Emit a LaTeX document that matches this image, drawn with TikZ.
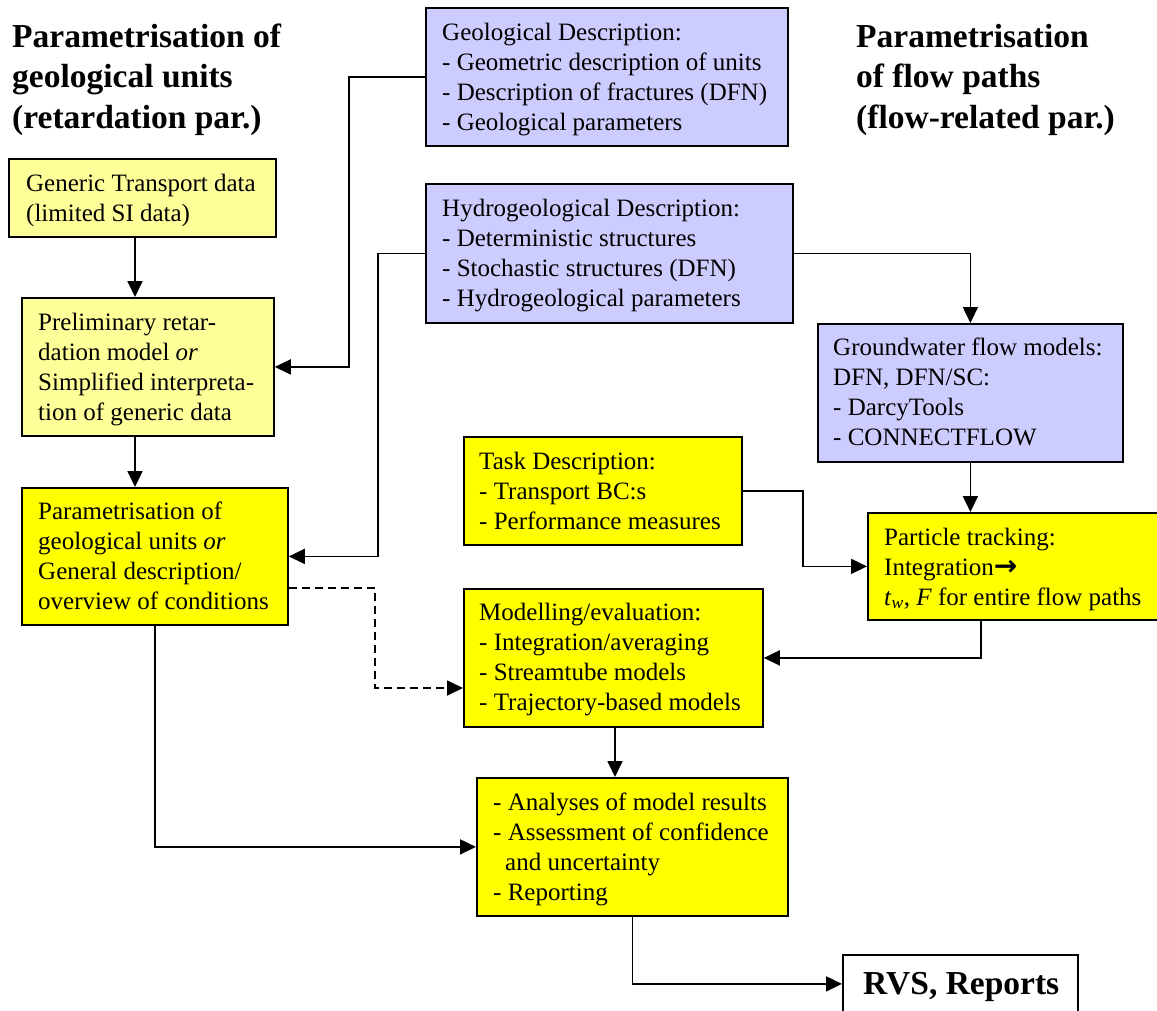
\documentclass[tikz,border=0pt]{standalone}
\usepackage{fontspec}
\setmainfont{Liberation Serif}
\newfontfamily\arrowfont{DejaVu Sans}
\usetikzlibrary{arrows.meta}
\definecolor{lavender}{RGB}{204,204,255}
\definecolor{paleyellow}{RGB}{255,255,153}
\definecolor{brightyellow}{RGB}{255,255,0}
% left-aligned stack of lines whose baseline is that of the first line
\newcommand{\boxlines}[1]{\begin{tabular}[t]{@{}l@{}}#1\end{tabular}}

\begin{document}
\begin{tikzpicture}[x=1pt,y=-1pt,
  panel/.style={draw=black, line width=1.8pt, anchor=north west, inner sep=0pt},
  bluebox/.style={panel, fill=lavender},
  palebox/.style={panel, fill=paleyellow},
  yellowbox/.style={panel, fill=brightyellow},
  whitebox/.style={panel, fill=white},
  body/.style={anchor=base west, inner sep=0pt, font=\fontsize{25}{30}\selectfont},
  heading/.style={anchor=base west, inner sep=0pt, font=\bfseries\fontsize{33.5}{40.5}\selectfont},
  link/.style={line width=1.8pt, -{Triangle[length=16pt,width=15pt]}},
  dashedlink/.style={link, dash pattern=on 8pt off 5pt},
]
\path[fill=white] (0,0) rectangle (1157,1010);
\useasboundingbox (0,0) rectangle (1157,1010);

% ---- headings ----
\node[heading] (lefthead) at (12,47) {\boxlines{Parametrisation of\\geological units\\(retardation par.)}};
\node[heading] (righthead) at (856,47) {\boxlines{Parametrisation\\of flow paths\\(flow-related par.)}};

% ---- boxes ----
\node[bluebox, minimum width=362pt, minimum height=138pt] (geo) at (425,7) {};
\node[bluebox, minimum width=367pt, minimum height=139pt] (hydro) at (425,183) {};
\node[palebox, minimum width=267pt, minimum height=78pt] (generic) at (8,158) {};
\node[palebox, minimum width=252pt, minimum height=138pt] (prelim) at (21,297) {};
\node[yellowbox, minimum width=266pt, minimum height=137pt] (param) at (21,487) {};
\node[yellowbox, minimum width=278pt, minimum height=108pt] (task) at (463,436) {};
\node[yellowbox, minimum width=299pt, minimum height=138pt] (model) at (463,588) {};
\node[bluebox, minimum width=305pt, minimum height=138pt] (gw) at (817,323) {};
\node[yellowbox, minimum width=292pt, minimum height=107pt] (particle) at (867,512) {};
\node[yellowbox, minimum width=311pt, minimum height=138pt] (analyses) at (476,777) {};
\node[whitebox, minimum width=235pt, minimum height=58pt] (rvs) at (842,954) {};

% ---- box texts ----
\node[body] (geotext) at (442,40) {\boxlines{Geological Description:\\- Geometric description of units\\- Description of fractures (DFN)\\- Geological parameters}};
\node[body] (hydrotext) at (442,216) {\boxlines{Hydrogeological Description:\\- Deterministic structures\\- Stochastic structures (DFN)\\- Hydrogeological parameters}};
\node[body] (generictext) at (26,191) {\boxlines{Generic Transport data\\(limited SI data)}};
\node[body] (prelimtext) at (38,330) {\boxlines{Preliminary retar-\\dation model \textit{or}\\Simplified interpreta-\\tion of generic data}};
\node[body] (paramtext) at (38,519) {\boxlines{Parametrisation of\\geological units \textit{or}\\General description/\\overview of conditions}};
\node[body] (tasktext) at (479,469) {\boxlines{Task Description:\\- Transport BC:s\\- Performance measures}};
\node[body] (modeltext) at (479,620) {\boxlines{Modelling/evaluation:\\- Integration/averaging\\- Streamtube models\\- Trajectory-based models}};
\node[body] (gwtext) at (833,355) {\boxlines{Groundwater flow models:\\DFN, DFN/SC:\\- DarcyTools\\- CONNECTFLOW}};
\node[body] (particletext) at (884,545) {\boxlines{Particle tracking:\\Integration{\arrowfont\bfseries\fontsize{28}{30}\selectfont →}\\\textit{t}\textsubscript{\textit{w}}, \textit{F} for entire flow paths}};
\node[body] (analysestext) at (493,810) {\boxlines{- Analyses of model results\\- Assessment of confidence\\\hspace{12pt}and uncertainty\\- Reporting}};
\node[heading] (rvstext) at (863,994) {RVS, Reports};

% ---- connectors ----
\draw[link] (geo.west) -- (geo.west -| 349,0) |- (prelim.east);
\draw[link] (hydro.west) -- (hydro.west -| 378,0) |- (param.east);
\draw[link] (hydro.east) -| (gw.north);
\draw[link] (generic.south -| 135,0) -- (prelim.north -| 135,0);
\draw[link] (prelim.south -| 135,0) -- (param.north -| 135,0);
\draw[link] (gw.south) -- (gw.south |- particle.north);
\draw[link] (task.east) -- (task.east -| 803,0) |- (particle.west);
\draw[link] (particle.south -| 981,0) |- (model.east);
\draw[dashedlink] (param.east |- 0,588) -| (375,688) -- (model.west |- 0,688);
\draw[link] (param.south) |- (analyses.west);
\draw[link] (model.south -| 615,0) -- (analyses.north -| 615,0);
\draw[link] (analyses.south) |- (rvs.west);
\end{tikzpicture}
\end{document}
